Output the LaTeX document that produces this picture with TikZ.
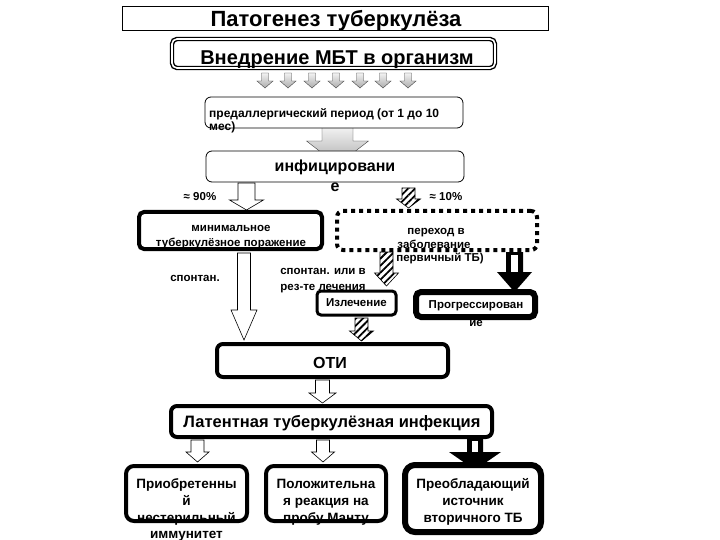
\documentclass[tikz,border=0pt]{standalone}
\usepackage{fontspec}
\setmainfont{Liberation Sans}
\usetikzlibrary{patterns.meta}
% block arrow: #1 style, #2 cx, #3 top, #4 tip, #5 shaft half width, #6 head half width, #7 head length
\newcommand\blkarrow[7]{%
  \path[#1] (#2-#5,#3) -- (#2+#5,#3) -- (#2+#5,#4-#7) -- (#2+#6,#4-#7) -- (#2,#4)
    -- (#2-#6,#4-#7) -- (#2-#5,#4-#7) -- cycle;}
\begin{document}
\begin{tikzpicture}[x=1pt,y=-1pt,
  box/.style={draw=black, fill=white, inner sep=0pt, rounded corners=6pt},
  tx/.style={inner sep=0pt, anchor=base, align=center},
  sm/.style={font=\bfseries\fontsize{11.5}{13}\selectfont},
  md/.style={font=\bfseries\fontsize{13.5}{16}\selectfont},
  openarr/.style={draw=black, fill=white, line width=0.6pt},
  hatcharr/.style={draw=black, line width=0.6pt, fill=white,
     postaction={pattern={Lines[angle=45,distance=5pt,line width=1.8pt]}}},
  grayarr/.style={draw=gray!50!black, line width=0.4pt, top color=gray!10, bottom color=gray!65},
  blackarr/.style={fill=black},
]
\useasboundingbox (0,0) rectangle (720,540);

% ---------- arrows (behind the boxes) ----------
\foreach \cx in {265,288,312,336,360,383,408}{
  \blkarrow{grayarr}{\cx}{73}{88}{3.5}{8}{7}
}
\blkarrow{grayarr}{337.5}{127}{165}{15.5}{31}{24}
\blkarrow{openarr}{246.5}{183}{210}{8.5}{17}{10}
\blkarrow{hatcharr}{408.5}{188}{208}{6.5}{12}{9}
\blkarrow{hatcharr}{386.5}{252}{286}{6.5}{12}{13}
\blkarrow{openarr}{244}{253}{340}{6.5}{13}{30}
\blkarrow{blackarr}{514.5}{252}{292}{8.5}{17.5}{20}
\fill[white] (511,255) rectangle (518,272);
\blkarrow{hatcharr}{361.5}{318}{341}{6.5}{12}{10}
\blkarrow{openarr}{322.5}{380}{403}{7}{13.5}{10}
\blkarrow{openarr}{197.5}{440}{462}{6.5}{11.5}{10}
\blkarrow{openarr}{323}{440}{462}{6.5}{11.5}{10}
\blkarrow{blackarr}{475}{438}{470}{8}{26}{18}
\fill[white] (472,441) rectangle (478,452);

% ---------- boxes ----------
\node[box, rounded corners=0pt, line width=0.9pt, minimum width=426pt, minimum height=24pt] (title) at (335,18) {};
\node[box, rounded corners=5pt, line width=1.4pt, double=white, double distance=1.6pt, minimum width=323pt, minimum height=29pt] (vn) at (333.5,53.5) {};
\node[box, line width=0.8pt, minimum width=258pt, minimum height=31pt] (pre) at (334,112.5) {};
\node[box, line width=0.8pt, minimum width=258pt, minimum height=31pt] (inf) at (335,166.5) {};
\node[box, rounded corners=5pt, line width=4pt, minimum width=183pt, minimum height=37pt] (min) at (230.5,230.5) {};
\node[box, line width=4pt, dash pattern=on 4pt off 4pt, minimum width=200pt, minimum height=39pt] (perehod) at (437,230.5) {};
\node[box, rounded corners=4pt, line width=3pt, minimum width=79pt, minimum height=24pt] (izl) at (356.5,303) {};
\node[box, rounded corners=5pt, line width=6pt, minimum width=119pt, minimum height=25pt] (prog) at (475.5,304.5) {};
\node[box, line width=4pt, minimum width=231pt, minimum height=33pt] (oti) at (332.5,360.5) {};
\node[box, line width=4pt, minimum width=321pt, minimum height=31pt] (lat) at (331.5,421.5) {};
\node[box, rounded corners=8pt, line width=4pt, minimum width=121pt, minimum height=55pt] (b1) at (186.5,493.5) {};
\node[box, rounded corners=8pt, line width=4pt, minimum width=120pt, minimum height=55pt] (b2) at (326,493.5) {};
\node[box, rounded corners=10pt, line width=6pt, minimum width=136pt, minimum height=67pt] (b3) at (473,498.5) {};

% ---------- texts ----------
\node[tx, font=\bfseries\fontsize{22}{26}\selectfont] (t1) at (336,26.5) {Патогенез туберкулёза};
\node[tx, font=\bfseries\fontsize{20}{24}\selectfont] (t2) at (337,64.5) {Внедрение МБТ в организм};
\node[tx, font=\bfseries\fontsize{12}{14}\selectfont, anchor=base west] (t3) at (209,118) {предаллергический период (от 1 до 10};
\node[tx, font=\bfseries\fontsize{12}{14}\selectfont, anchor=base west] (t3b) at (209,131) {мес)};
\node[tx, font=\bfseries\fontsize{16}{18}\selectfont] (t4) at (335,172) {инфицировани};
\node[tx, font=\bfseries\fontsize{16}{18}\selectfont] (t4b) at (335,192) {е};
\node[tx, sm] (p90) at (200,201) {≈ 90\%};
\node[tx, sm] (p10) at (446,201) {≈ 10\%};
\node[tx, sm] (t5) at (231,232) {минимальное};
\node[tx, sm] (t5b) at (231,246) {туберкулёзное поражение};
\node[tx, sm] (t6) at (436,234) {переход в};
\node[tx, sm] (t6b) at (434,248) {заболевание};
\node[tx, sm] (t6c) at (440,261) {первичный ТБ)};
\node[tx, sm] (t7) at (195,281) {спонтан.};
\node[tx, sm] (t8) at (323,274) {спонтан. или в};
\node[tx, sm] (t8b) at (323,290) {рез-те лечения};
\node[tx, sm] (t9) at (356.5,306.5) {Излечение};
\node[tx, sm] (t10) at (476,308) {Прогрессирован};
\node[tx, sm] (t10b) at (476,326) {ие};
\node[tx, font=\bfseries\fontsize{16}{18}\selectfont] (t11) at (330,368) {ОТИ};
\node[tx, font=\bfseries\fontsize{16.5}{19}\selectfont] (t12) at (332,427) {Латентная туберкулёзная инфекция};
\node[tx, md] (b1a) at (186.5,488) {Приобретенны};
\node[tx, md] (b1b) at (186.5,505) {й};
\node[tx, md] (b1c) at (186.5,522) {нестерильный};
\node[tx, md] (b1d) at (186.5,538) {иммунитет};
\node[tx, md] (b2a) at (326,488) {Положительна};
\node[tx, md] (b2b) at (326,505) {я реакция на};
\node[tx, md] (b2c) at (326,522) {пробу Манту};
\node[tx, md] (b3a) at (473,488) {Преобладающий};
\node[tx, md] (b3b) at (473,505) {источник};
\node[tx, md] (b3c) at (473,522) {вторичного ТБ};
\end{tikzpicture}
\end{document}
